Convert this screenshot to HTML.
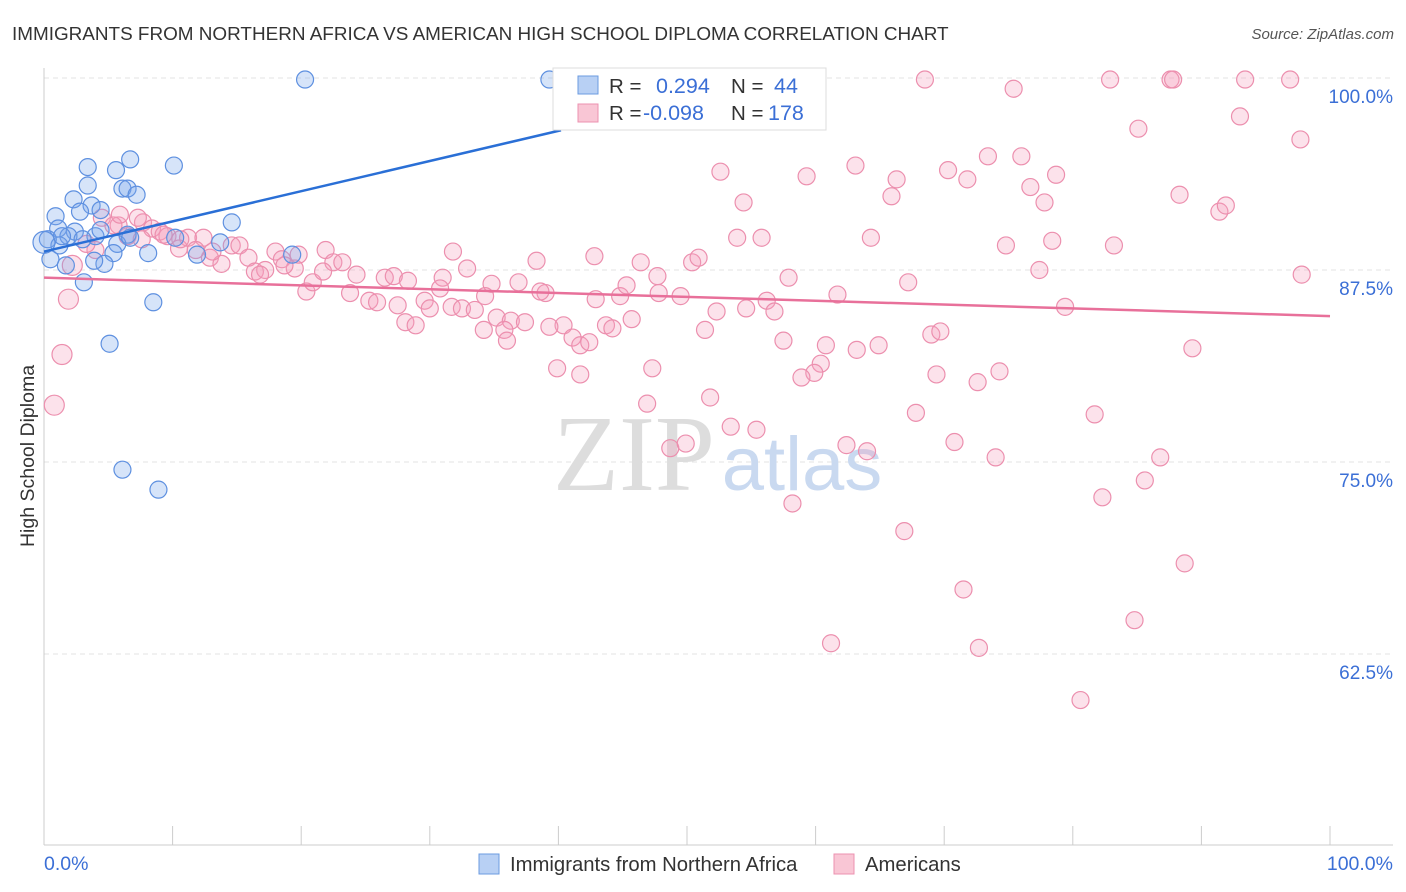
<!DOCTYPE html>
<html><head><meta charset="utf-8">
<style>
body{margin:0;background:#fff;font-family:"Liberation Sans",sans-serif;}
svg{display:block}
</style></head>
<body>
<svg id="chart" width="1406" height="892" viewBox="0 0 1406 892" xmlns="http://www.w3.org/2000/svg">
  <text x="12" y="40" font-size="18.9" fill="#333">IMMIGRANTS FROM NORTHERN AFRICA VS AMERICAN HIGH SCHOOL DIPLOMA CORRELATION CHART</text>
  <text x="1394" y="39" font-size="15" fill="#555" text-anchor="end" font-style="italic">Source: ZipAtlas.com</text>
  <g id="grid"></g>
  <g>
    <text x="634" y="490" font-size="108" fill="#ddd" font-family="Liberation Serif,serif" text-anchor="middle">ZIP</text>
    <text x="802" y="490" font-size="76" fill="#c9d9f0" text-anchor="middle">atlas</text>
  </g>
  <g id="pts"></g>
  <g id="lines"></g>
  <text transform="translate(34,456) rotate(-90)" font-size="19.5" fill="#333" text-anchor="middle">High School Diploma</text>
  <text x="44" y="870" font-size="19.5" fill="#3b6fd6">0.0%</text>
  <text x="1393" y="870" font-size="19.5" fill="#3b6fd6" text-anchor="end">100.0%</text>
  <g>
    <rect x="553" y="68" width="273" height="62" fill="#fff" stroke="#ddd"/>
    <rect x="578" y="76" width="20" height="18" fill="#b8d0f4" stroke="#6b9be0"/>
    <rect x="578" y="104" width="20" height="18" fill="#f9c6d5" stroke="#ec92b0"/>
    <text x="609" y="93" font-size="20.5" fill="#333">R =</text>
    <text x="656" y="93" font-size="21.5" fill="#3b6fd6">0.294</text>
    <text x="731" y="93" font-size="20.5" fill="#333">N =</text>
    <text x="774" y="93" font-size="21.5" fill="#3b6fd6">44</text>
    <text x="609" y="120" font-size="20.5" fill="#333">R =</text>
    <text x="643" y="120" font-size="21.5" fill="#3b6fd6">-0.098</text>
    <text x="731" y="120" font-size="20.5" fill="#333">N =</text>
    <text x="768" y="120" font-size="21.5" fill="#3b6fd6">178</text>
  </g>
  <g>
    <rect x="479" y="854" width="20" height="20" fill="#b8d0f4" stroke="#6b9be0"/>
    <text x="510" y="871" font-size="20.3" fill="#333">Immigrants from Northern Africa</text>
    <rect x="834" y="854" width="20" height="20" fill="#f9c6d5" stroke="#ec92b0"/>
    <text x="865" y="871" font-size="20.3" fill="#333">Americans</text>
  </g>
</svg>
<script>
const yTicks=[100,87.5,75,62.5];
const yTickLabels=["100.0%","87.5%","75.0%","62.5%"];
const xTicks=[0,10,20,30,40,50,60,70,80,90,100];
const blueX=[20.3,39.3,0.9,3.4,3.4,6.7,10.1,5.6,6.1,6.5,7.2,2.3,3.7,2.8,4.4,14.6,1.1,2.4,4.0,1.9,0.3,1.2,3.0,6.5,5.7,13.7,19.3,8.1,5.4,11.9,0.5,1.7,4.7,3.9,3.1,8.5,5.1,6.1,8.9,10.2,0,1.4,6.7,4.4];
const blueY=[99.9,99.9,91.0,93.0,94.2,94.7,94.3,94.0,92.8,92.8,92.4,92.1,91.7,91.3,91.4,90.6,90.2,90.0,89.7,89.7,89.5,89.1,89.5,89.8,89.2,89.3,88.5,88.6,88.6,88.5,88.2,87.8,87.9,88.1,86.7,85.4,82.7,74.5,73.2,89.6,89.3,89.7,89.6,90.1];
const pinkX=[68.5,75.4,82.9,87.6,87.8,93.4,96.9,93.0,85.1,97.7,52.6,63.1,73.4,76.0,70.3,71.8,59.3,66.3,76.7,78.7,77.8,65.9,54.4,88.3,91.4,91.9,53.9,55.8,64.3,74.8,78.4,83.2,42.8,38.3,46.4,50.4,50.9,57.9,67.2,77.4,97.8,31.8,32.9,31.0,34.8,36.9,39.0,42.9,44.8,47.7,45.3,49.5,47.8,56.2,61.7,54.6,52.3,56.8,79.4,43.7,44.2,45.7,40.4,39.3,41.1,41.7,42.4,47.3,39.9,41.7,51.4,57.5,60.8,63.2,64.9,69.0,69.7,89.3,60.4,59.9,58.9,69.4,72.6,74.3,46.9,51.8,53.4,55.4,67.8,81.7,70.8,62.4,48.7,49.9,64.0,74.0,86.8,85.6,82.3,58.2,66.9,88.7,71.5,84.8,61.2,72.7,80.6,1.9,1.4,0.8,2.2,4.0,3.3,4.5,5.8,6.5,7.7,7.3,8.4,9.0,9.6,10.5,11.2,12.4,12.9,13.8,14.6,15.2,15.9,16.4,17.2,18.0,18.5,19.5,19.8,20.4,20.9,21.9,22.5,23.2,21.7,23.8,24.3,25.3,25.9,26.5,27.2,28.1,28.9,27.5,28.3,29.6,30.0,30.8,31.7,32.5,33.5,34.3,35.2,36.3,35.8,37.4,38.6,34.2,36.0,5.4,5.9,7.6,9.3,10.6,11.8,13.1,16.8,18.7];
const pinkY=[99.9,99.3,99.9,99.9,99.9,99.9,99.9,97.5,96.7,96.0,93.9,94.3,94.9,94.9,94.0,93.4,93.6,93.4,92.9,93.7,91.9,92.3,91.9,92.4,91.3,91.7,89.6,89.6,89.6,89.1,89.4,89.1,88.4,88.1,88.0,88.0,88.3,87.0,86.7,87.5,87.2,88.7,87.6,87.0,86.6,86.7,86.0,85.6,85.8,87.1,86.5,85.8,86.0,85.5,85.9,85.0,84.8,84.8,85.1,83.9,83.7,84.3,83.9,83.8,83.1,82.6,82.8,81.1,81.1,80.7,83.6,82.9,82.6,82.3,82.6,83.3,83.5,82.4,81.4,80.8,80.5,80.7,80.2,80.9,78.8,79.2,77.3,77.1,78.2,78.1,76.3,76.1,75.9,76.2,75.7,75.3,75.3,73.8,72.7,72.3,70.5,68.4,66.7,64.7,63.2,62.9,59.5,85.6,82.0,78.7,87.8,88.8,89.2,90.9,90.4,89.7,90.6,90.9,90.2,90.0,89.7,88.9,89.6,89.6,88.3,87.9,89.1,89.1,88.3,87.4,87.5,88.7,88.2,87.6,88.5,86.1,86.7,88.8,88.0,88.0,87.4,86.0,87.2,85.5,85.4,87.0,87.1,84.1,83.9,85.2,86.8,85.5,85.0,86.3,85.1,85.0,84.9,85.8,84.4,84.2,83.6,84.1,86.1,83.6,82.9,90.4,91.1,89.5,89.8,89.5,88.8,88.7,87.2,87.8];
const blueTrendX=[0,40.2];
const blueTrendY=[88.7,96.6];
const pinkTrendX=[0,100];
const pinkTrendY=[87.0,84.5];

const NS="http://www.w3.org/2000/svg";
const X0=44,X1=1330,YTOP=78,YSTEP=192/12.5;
const sx=v=>X0+(X1-X0)*v/100;
const sy=v=>YTOP+(100-v)*YSTEP;
function mk(tag,attrs,parent){const e=document.createElementNS(NS,tag);for(const k in attrs)e.setAttribute(k,attrs[k]);parent.appendChild(e);return e;}
const grid=document.getElementById('grid');
yTicks.forEach((t,i)=>{
  const l=mk('line',{x1:44,x2:1393,y1:sy(t),y2:sy(t),stroke:'#e3e3e3','stroke-dasharray':'5,4'},grid);
  
  
  const tx=mk('text',{x:1393,y:sy(t)+25,'font-size':19,fill:'#3b6fd6','text-anchor':'end'},grid);
  tx.textContent=yTickLabels[i];
  
  
});
const ax=mk('line',{x1:44,x2:44,y1:68,y2:845,stroke:'#ccc'},grid);


const bx=mk('line',{x1:44,x2:1393,y1:845,y2:845,stroke:'#ccc'},grid);


xTicks.forEach(t=>{
  const l=mk('line',{x1:sx(t),x2:sx(t),y1:826,y2:845,stroke:'#ccc'},grid);
  
  
});
const pts=document.getElementById('pts');
pinkX.forEach((x,i)=>{
  const c=mk('circle',{cx:sx(x),cy:sy(pinkY[i]),r:(x<2.5&&pinkY[i]<88)?10:8.5,fill:'rgba(244,160,188,0.3)',stroke:'#ec8fae','stroke-width':1.2},pts);
  
  
});
blueX.forEach((x,i)=>{
  const c=mk('circle',{cx:sx(x),cy:sy(blueY[i]),r:x===0?11:8.5,fill:'rgba(120,165,235,0.3)',stroke:'#5e90e0','stroke-width':1.2},pts);
  
  
});
const lines=document.getElementById('lines');
const bl=mk('line',{x1:sx(blueTrendX[0]),y1:sy(blueTrendY[0]),x2:sx(blueTrendX[1]),y2:sy(blueTrendY[1]),stroke:'#2a6fd6','stroke-width':2.5},lines);


const pl=mk('line',{x1:sx(pinkTrendX[0]),y1:sy(pinkTrendY[0]),x2:sx(pinkTrendX[1]),y2:sy(pinkTrendY[1]),stroke:'#e8709a','stroke-width':2.5},lines);


</script>
</body></html>
